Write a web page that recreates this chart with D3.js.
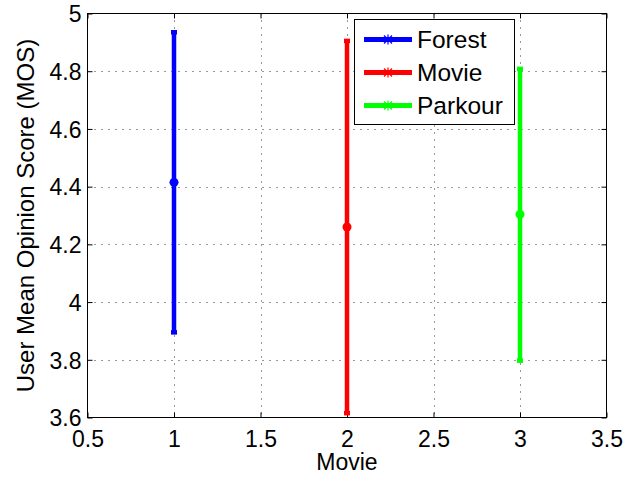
<!DOCTYPE html>
<html><head><meta charset="utf-8">
<script src="https://cdn.jsdelivr.net/npm/d3@7"></script>
<style>body{margin:0;background:#fff}svg{display:block}text{font-family:"Liberation Sans",Arial,sans-serif;fill:#000}</style>
</head><body><svg id="c" width="642" height="478"></svg>
<script>
const categories = ["Forest", "Movie", "Parkour"];
const xPos = [1, 2, 3];
const means = [4.415, 4.26, 4.304];
const lower = [3.895, 3.615, 3.797];
const upper = [4.935, 4.905, 4.808];
const colors = ["#0000ff", "#ff0000", "#00ff00"];
const xTicks = [0.5, 1, 1.5, 2, 2.5, 3, 3.5];
const xTickLabels = ["0.5", "1", "1.5", "2", "2.5", "3", "3.5"];
const yTicks = [3.6, 3.8, 4, 4.2, 4.4, 4.6, 4.8, 5];
const yTickLabels = ["3.6", "3.8", "4", "4.2", "4.4", "4.6", "4.8", "5"];
const xLabel = "Movie";
const yLabel = "User Mean Opinion Score (MOS)";

const L = 87.5, R = 606.5, T = 13.5, B = 417.5;
const svg = d3.select("#c");
const x = d3.scaleLinear().domain([0.5, 3.5]).range([L, R]);
const y = d3.scaleLinear().domain([3.6, 5]).range([B, T]);

// grid
const g = svg.append("g");
g.selectAll(".gx").data(xTicks.slice(1, -1)).enter().append("line")
  .attr("x1", d => Math.round(x(d)) + 0.5).attr("x2", d => Math.round(x(d)) + 0.5)
  .attr("y1", T).attr("y2", B).attr("stroke", "#333").attr("stroke-dasharray", "1,6");
g.selectAll(".gy").data(yTicks.slice(1, -1)).enter().append("line")
  .attr("y1", d => Math.round(y(d)) + 0.5).attr("y2", d => Math.round(y(d)) + 0.5)
  .attr("x1", L).attr("x2", R).attr("stroke", "#333").attr("stroke-dasharray", "1,6");

// axes with ticks on all sides
const ax = svg.append("g");
ax.append("g").attr("transform", `translate(0,${B})`)
  .call(d3.axisBottom(x).tickValues(xTicks).tickSizeInner(-5).tickSizeOuter(0).tickFormat((d, i) => xTickLabels[i]))
  .call(s => { s.select(".domain").remove(); s.selectAll("text").attr("dy", 0).attr("y", 29).style("font-size", "23px").style("font-family", "Liberation Sans, Arial"); });
ax.append("g").attr("transform", `translate(0,${T})`)
  .call(d3.axisTop(x).tickValues(xTicks).tickSizeInner(-5).tickSizeOuter(0).tickFormat(""))
  .call(s => s.select(".domain").remove());
ax.append("g").attr("transform", `translate(${L},0)`)
  .call(d3.axisLeft(y).tickValues(yTicks).tickSizeInner(-5).tickSizeOuter(0).tickFormat((d, i) => yTickLabels[i]))
  .call(s => { s.select(".domain").remove(); s.selectAll("text").attr("x", -6).attr("dy", "0.36em").style("font-size", "23px").style("font-family", "Liberation Sans, Arial"); });
ax.append("g").attr("transform", `translate(${R},0)`)
  .call(d3.axisRight(y).tickValues(yTicks).tickSizeInner(-5).tickSizeOuter(0).tickFormat(""))
  .call(s => s.select(".domain").remove());
ax.selectAll(".tick line").attr("stroke", "#000");
svg.append("rect").attr("x", L).attr("y", T).attr("width", R - L).attr("height", B - T)
  .attr("fill", "none").attr("stroke", "#000").attr("stroke-width", 1);

// error bars
const eb = svg.append("g");
categories.forEach((c, i) => {
  const cx = x(xPos[i]);
  eb.append("line").attr("x1", cx).attr("x2", cx).attr("y1", y(lower[i])).attr("y2", y(upper[i]))
    .attr("stroke", colors[i]).attr("stroke-width", 4.5);
  [lower[i], upper[i]].forEach(v => {
    eb.append("line").attr("x1", cx - 3).attr("x2", cx + 3).attr("y1", y(v)).attr("y2", y(v))
      .attr("stroke", colors[i]).attr("stroke-width", 4.5);
  });
  eb.append("circle").attr("cx", cx).attr("cy", y(means[i])).attr("r", 4.5).attr("fill", colors[i]);
});

// labels
svg.append("text").attr("x", (L + R) / 2).attr("y", 470).attr("text-anchor", "middle")
  .style("font-size", "23px").text(xLabel);
svg.append("text").attr("transform", `translate(34,${(T + B) / 2}) rotate(-90)`).attr("text-anchor", "middle")
  .style("font-size", "24px").text(yLabel);

// legend
const lg = svg.append("g");
lg.append("rect").attr("x", 354.5).attr("y", 19.5).attr("width", 160).attr("height", 105)
  .attr("fill", "#fff").attr("stroke", "#000").attr("stroke-width", 1);
categories.forEach((c, i) => {
  const ly = 39.5 + i * 33;
  lg.append("line").attr("x1", 364).attr("x2", 412).attr("y1", ly).attr("y2", ly)
    .attr("stroke", colors[i]).attr("stroke-width", 5);
  const mx = 388;
  lg.append("path").attr("d", `M${mx - 4},${ly - 4}L${mx + 4},${ly + 4}M${mx - 4},${ly + 4}L${mx + 4},${ly - 4}M${mx},${ly - 5}L${mx},${ly + 5}M${mx - 5},${ly}L${mx + 5},${ly}`)
    .attr("stroke", colors[i]).attr("stroke-width", 1.2);
  lg.append("text").attr("x", 417).attr("y", ly + 8.5).style("font-size", "24.5px").text(c);
});
</script></body></html>
